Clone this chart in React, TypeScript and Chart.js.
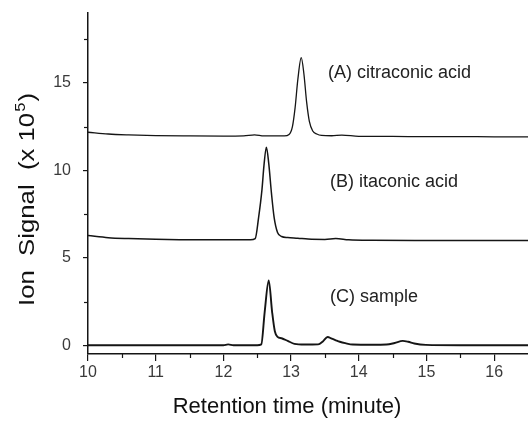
import React, { useEffect, useRef } from "react";
import { Chart, registerables } from "chart.js";

Chart.register(...registerables);

// Retention time (minutes) and ion signal (x 10^5)
const timeA = [10, 10.3, 10.6, 11, 11.5, 12, 12.3, 12.46, 12.6, 12.9, 12.97, 13.02, 13.06, 13.1, 13.15, 13.19, 13.23, 13.27, 13.32, 13.38, 13.45, 13.6, 13.75, 14, 14.5, 15, 15.5, 16, 16.5];
const signalA = [12.18, 12.08, 12.03, 11.99, 11.97, 11.96, 11.97, 12.03, 11.97, 11.97, 12.05, 12.5, 13.6, 15.2, 16.45, 15.5, 13.9, 12.8, 12.25, 12.08, 12.0, 11.98, 12.02, 11.95, 11.94, 11.93, 11.93, 11.92, 11.92];

const timeB = [10, 10.3, 10.6, 11, 11.35, 11.8, 12.2, 12.4, 12.47, 12.52, 12.57, 12.6, 12.635, 12.67, 12.71, 12.75, 12.8, 12.86, 12.95, 13.1, 13.25, 13.5, 13.66, 13.85, 14.2, 15, 16, 16.5];
const signalB = [6.27, 6.15, 6.1, 6.06, 6.04, 6.03, 6.03, 6.03, 6.1, 7.3, 8.9, 10.3, 11.33, 10.4, 8.7, 7.3, 6.45, 6.22, 6.16, 6.12, 6.07, 6.05, 6.1, 6.03, 6.0, 5.99, 5.99, 5.99];

const timeC = [10, 11, 12, 12.07, 12.15, 12.5, 12.56, 12.61, 12.67, 12.72, 12.76, 12.8, 12.86, 12.95, 13.05, 13.2, 13.4, 13.47, 13.54, 13.6, 13.67, 13.72, 13.8, 13.91, 14.2, 14.41, 14.53, 14.65, 14.73, 14.82, 14.99, 15.5, 16.5];
const signalC = [0, 0, 0, 0.05, 0, 0, 0.05, 1.9, 3.71, 1.9, 0.8, 0.48, 0.4, 0.25, 0.08, 0.04, 0.05, 0.22, 0.47, 0.38, 0.27, 0.2, 0.12, 0.04, 0.03, 0.04, 0.13, 0.25, 0.2, 0.1, 0.02, 0, 0];

const xTicks = [10, 11, 12, 13, 14, 15, 16];
const xMinorTicks = [10.5, 11.5, 12.5, 13.5, 14.5, 15.5];
const yTicks = [0, 5, 10, 15];
const yMinorTicks = [2.5, 7.5, 12.5, 17.5];

const traceLabels = ["(A) citraconic acid", "(B) itaconic acid", "(C) sample"];
const traceLabelTime = [13.545, 13.575, 13.575];
const traceLabelSignal = [15.3, 9.03, 2.46];

const FONT = '"Liberation Sans", Arial, sans-serif';
const INK = "#151515";

const toPoints = (t: number[], v: number[]) => t.map((x, i) => ({ x, y: v[i] }));

const decorPlugin = {
  id: "decor",
  afterDraw(chart: any) {
    const { ctx } = chart;
    const x = chart.scales.x;
    const y = chart.scales.y;
    ctx.save();
    // minor ticks
    ctx.strokeStyle = INK;
    ctx.lineWidth = 1.2;
    xMinorTicks.forEach((v) => {
      const px = Math.round(x.getPixelForValue(v)) + 0.5;
      ctx.beginPath();
      ctx.moveTo(px, y.bottom);
      ctx.lineTo(px, y.bottom + 4);
      ctx.stroke();
    });
    yMinorTicks.forEach((v) => {
      const py = Math.round(y.getPixelForValue(v)) + 0.5;
      ctx.beginPath();
      ctx.moveTo(x.left, py);
      ctx.lineTo(x.left - 4, py);
      ctx.stroke();
    });
    // trace labels
    ctx.fillStyle = "#222";
    ctx.textAlign = "left";
    ctx.textBaseline = "alphabetic";
    ctx.font = `18px ${FONT}`;
    traceLabels.forEach((t, i) => {
      ctx.fillText(t, x.getPixelForValue(traceLabelTime[i]), y.getPixelForValue(traceLabelSignal[i]));
    });
    // x title
    ctx.fillStyle = "#111";
    ctx.font = `22px ${FONT}`;
    ctx.textAlign = "center";
    ctx.fillText("Retention time (minute)", 287, 413);
    // y title with superscript
    ctx.translate(34, 306);
    ctx.rotate(-Math.PI / 2);
    ctx.scale(1.17, 1);
    ctx.textAlign = "left";
    const main = "Ion  Signal  (x 10";
    ctx.font = `22px ${FONT}`;
    ctx.fillText(main, 0, 0);
    const w = ctx.measureText(main).width;
    ctx.font = `14px ${FONT}`;
    ctx.fillText("5", w + 1, -9);
    const w5 = ctx.measureText("5").width;
    ctx.font = `22px ${FONT}`;
    ctx.fillText(")", w + w5 + 2, 0);
    ctx.restore();
  },
};

export default function App() {
  const ref = useRef<HTMLCanvasElement | null>(null);
  useEffect(() => {
    document.body.style.margin = "0";
    const canvas = ref.current;
    if (!canvas) return;
    const mk = (t: number[], v: number[], w: number) => ({
      data: toPoints(t, v),
      borderColor: INK,
      borderWidth: w,
      pointRadius: 0,
      fill: false,
      cubicInterpolationMode: "monotone" as const,
    });
    const chart = new Chart(canvas, {
      type: "line",
      data: {
        datasets: [mk(timeA, signalA, 1.3), mk(timeB, signalB, 1.5), mk(timeC, signalC, 1.9)],
      },
      options: {
        animation: false,
        responsive: false,
        parsing: false as any,
        layout: { padding: { top: 13, right: 0, left: 0, bottom: 0 } },
        plugins: { legend: { display: false }, tooltip: { enabled: false } },
        scales: {
          x: {
            type: "linear",
            min: 10,
            max: 16.5,
            afterBuildTicks: (axis: any) => {
              axis.ticks = xTicks.map((value) => ({ value }));
            },
            afterFit: (axis: any) => {
              axis.height = 68;
              axis.paddingLeft = 0;
              axis.paddingRight = 0;
            },
            grid: { drawOnChartArea: false, drawTicks: true, tickLength: 7, color: INK, lineWidth: 1.2 },
            border: { display: true, color: INK, width: 1.5 },
            ticks: { font: { family: FONT, size: 16 }, color: "#3a3a3a", padding: 2, maxRotation: 0 },
          },
          y: {
            type: "linear",
            min: -0.5,
            max: 19,
            afterBuildTicks: (axis: any) => {
              axis.ticks = yTicks.map((value) => ({ value }));
            },
            afterFit: (axis: any) => {
              axis.width = 88;
              axis.paddingTop = 0;
              axis.paddingBottom = 0;
            },
            grid: { drawOnChartArea: false, drawTicks: true, tickLength: 5, color: INK, lineWidth: 1.2 },
            border: { display: true, color: INK, width: 1.5 },
            ticks: { font: { family: FONT, size: 16 }, color: "#3a3a3a", padding: 12 },
          },
        },
      },
      plugins: [decorPlugin],
    });
    return () => chart.destroy();
  }, []);
  return <canvas ref={ref} width={528} height={422} style={{ display: "block" }} />;
}
